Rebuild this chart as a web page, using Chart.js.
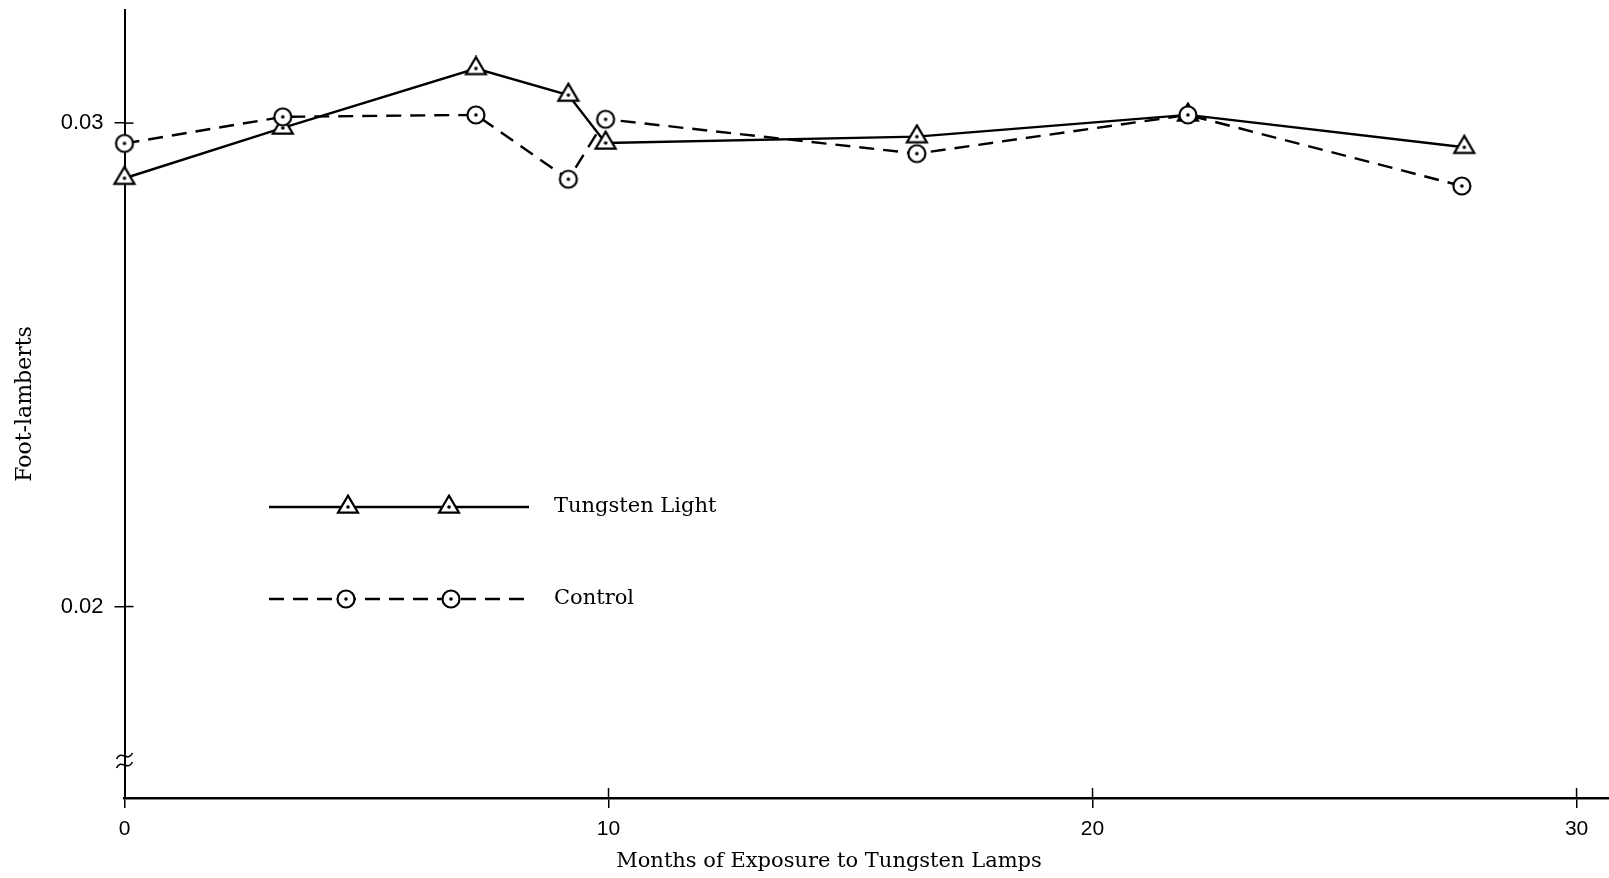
<!DOCTYPE html>
<html>
<head>
<meta charset="utf-8">
<script src="https://cdn.jsdelivr.net/npm/chart.js@4.4.1/dist/chart.umd.min.js"></script>
<style>
  html, body { margin: 0; padding: 0; background: #fff; overflow: hidden; }
  #wrap { width: 1609px; height: 878px; position: relative; }
</style>
</head>
<body>
<div id="wrap"><canvas id="exposure-chart"></canvas></div>
<script>
// values
const tungstenMonths = [0, 3.27, 7.26, 9.17, 9.94, 16.37, 21.97, 27.68];
const tungstenValues = [0.02886, 0.02990, 0.03113, 0.03058, 0.02959, 0.02972, 0.03017, 0.02950];
const controlMonths = [0, 3.27, 7.26, 9.17, 9.94, 16.37, 21.97, 27.63];
const controlValues = [0.02958, 0.03013, 0.03017, 0.02884, 0.03008, 0.02937, 0.03017, 0.02870];
const monthTicks = [0, 10, 20, 30];
const lambertTicks = [0.02, 0.03];
const seriesNames = ['Tungsten Light', 'Control'];

const serif = "'DejaVu Serif', 'Liberation Serif', serif";
const tickFont = "'Liberation Sans Narrow', 'Liberation Sans', sans-serif";

function makeMarker(kind) {
    const c = document.createElement('canvas');
    c.width = 26; c.height = 26;
    const g = c.getContext('2d');
    const cx = 13, cy = 13;
    g.lineWidth = 2.2;
    g.strokeStyle = '#000';
    g.fillStyle = '#fff';
    g.beginPath();
    if (kind === 'triangle') {
        const h = 17, w = 20;
        g.moveTo(cx, cy - h * 2 / 3);
        g.lineTo(cx + w / 2, cy + h / 3);
        g.lineTo(cx - w / 2, cy + h / 3);
        g.closePath();
    } else {
        g.arc(cx, cy, 8.5, 0, Math.PI * 2);
    }
    g.fill();
    g.stroke();
    g.beginPath();
    g.fillStyle = '#000';
    g.arc(cx, cy, 1.8, 0, Math.PI * 2);
    g.fill();
    return c;
}

const triMarker = makeMarker('triangle');
const circMarker = makeMarker('circle');

function toPoints(xs, ys) {
    return xs.map((x, i) => ({x: x, y: ys[i]}));
}

function seg(ctx, x1, y1, x2, y2) {
    ctx.beginPath();
    ctx.moveTo(x1, y1);
    ctx.lineTo(x2, y2);
    ctx.stroke();
}

// ticks crossing the axes, the axis break, legend and x title
const extras = {
    id: 'extras',
    afterDraw(chart) {
        const {ctx, chartArea, scales} = chart;
        const left = chartArea.left, bottom = chartArea.bottom;
        ctx.save();
        ctx.strokeStyle = '#000';
        ctx.lineWidth = 1.5;
        monthTicks.forEach(v => {
            if (v === 0) return;
            const px = scales.x.getPixelForValue(v);
            seg(ctx, px, bottom, px, bottom - 10);
        });
        lambertTicks.forEach(v => {
            const py = scales.y.getPixelForValue(v);
            seg(ctx, left, py, left + 9, py);
        });

        // axis break
        const by = bottom - 37;
        ctx.lineWidth = 1.6;
        [-5, 4].forEach(dy => {
            ctx.beginPath();
            ctx.moveTo(left - 8, by + dy + 3);
            ctx.bezierCurveTo(left - 3, by + dy - 7, left + 3, by + dy + 7, left + 8, by + dy - 3);
            ctx.stroke();
        });

        // legend
        const rows = [
            {y: 507, dash: [], marker: triMarker, mx: [348, 449]},
            {y: 599, dash: [15, 9], marker: circMarker, mx: [346, 451]}
        ];
        rows.forEach((r, i) => {
            ctx.lineWidth = 2.3;
            ctx.setLineDash(r.dash);
            seg(ctx, 269, r.y, 529, r.y);
            ctx.setLineDash([]);
            r.mx.forEach(mx => ctx.drawImage(r.marker, mx - 13, r.y - 13));
            ctx.fillStyle = '#000';
            ctx.font = '21px ' + serif;
            ctx.textBaseline = 'middle';
            ctx.textAlign = 'left';
            ctx.fillText(seriesNames[i], 554, r.y);
        });

        ctx.font = '21px ' + serif;
        ctx.textAlign = 'center';
        ctx.textBaseline = 'middle';
        ctx.fillText('Months of Exposure to Tungsten Lamps', 829, 862);
        ctx.restore();
    }
};

new Chart(document.getElementById('exposure-chart'), {
    type: 'line',
    data: {
        datasets: [{
            label: seriesNames[0],
            data: toPoints(tungstenMonths, tungstenValues),
            borderColor: '#000',
            borderWidth: 2.4,
            pointStyle: triMarker,
            pointRadius: 9,
            tension: 0,
            clip: false,
            order: 1
        }, {
            label: seriesNames[1],
            data: toPoints(controlMonths, controlValues),
            borderColor: '#000',
            borderWidth: 2.4,
            borderDash: [15, 9],
            pointStyle: circMarker,
            pointRadius: 9,
            tension: 0,
            clip: false,
            order: 0
        }]
    },
    options: {
        responsive: true,
        maintainAspectRatio: false,
        animation: false,
        layout: {autoPadding: false, padding: {top: 10, right: 0, left: 0, bottom: 0}},
        plugins: {legend: {display: false}, tooltip: {enabled: false}},
        scales: {
            x: {
                type: 'linear',
                min: 0,
                max: 30.67,
                afterBuildTicks: (scale) => { scale.ticks = monthTicks.map(v => ({value: v})); },
                afterFit: (scale) => {
                    scale.height = 80;
                    scale.paddingLeft = 0;
                    scale.paddingRight = 0;
                },
                border: {color: '#000', width: 2.5},
                grid: {drawOnChartArea: false, drawTicks: true, tickLength: 10, color: '#000', lineWidth: 1.5},
                ticks: {
                    color: '#000',
                    padding: 9,
                    maxRotation: 0,
                    font: {family: tickFont, size: 21}
                }
            },
            y: {
                type: 'linear',
                min: 0.01604,
                max: 0.03234,
                afterBuildTicks: (scale) => { scale.ticks = lambertTicks.map(v => ({value: v})); },
                afterFit: (scale) => {
                    scale.width = 124.5;
                    scale.paddingTop = 0;
                    scale.paddingBottom = 0;
                },
                border: {color: '#000', width: 2},
                grid: {drawOnChartArea: false, drawTicks: true, tickLength: 10, color: '#000', lineWidth: 1.5},
                ticks: {
                    color: '#000',
                    padding: 11,
                    font: {family: tickFont, size: 22},
                    callback: (v) => v.toFixed(2)
                },
                title: {
                    display: true,
                    text: 'Foot-lamberts',
                    color: '#000',
                    font: {family: serif, size: 22},
                    padding: {top: 12, bottom: 0}
                }
            }
        }
    },
    plugins: [extras]
});
</script>
</body>
</html>
